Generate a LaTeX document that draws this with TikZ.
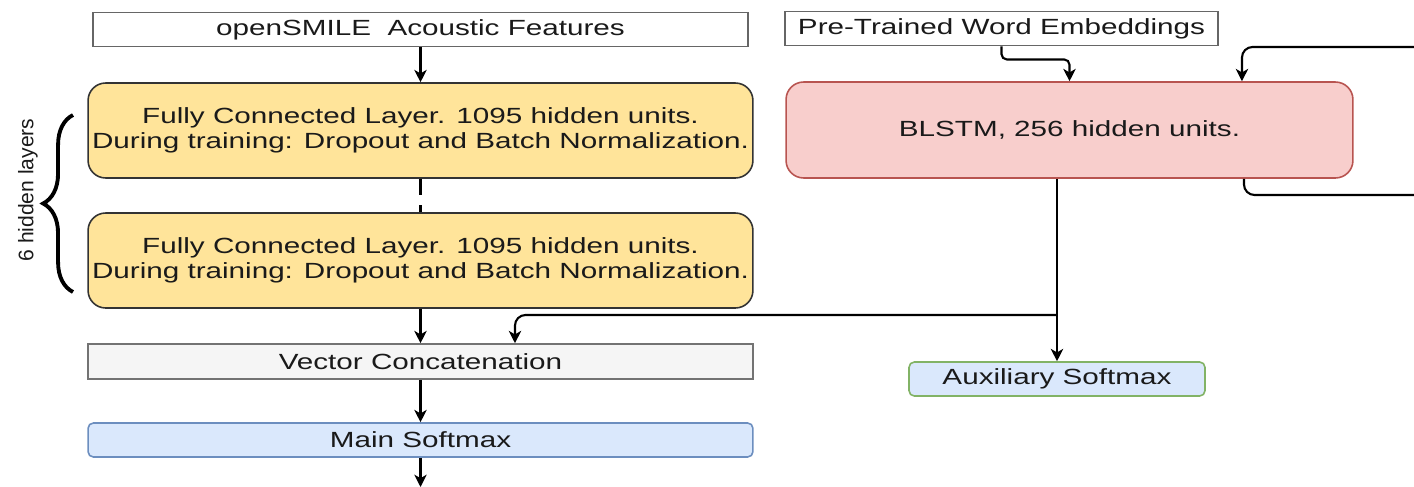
\documentclass[tikz,border=0pt]{standalone}
\usepackage{fontspec}
\setmainfont[FakeStretch=1.35]{Liberation Sans}
\newfontfamily\sidefont{Liberation Sans}
\usetikzlibrary{arrows.meta,decorations.pathreplacing}
\definecolor{fcfill}{HTML}{FFE49A}
\definecolor{lstmfill}{HTML}{F8CECC}
\definecolor{lstmdraw}{HTML}{B85450}
\definecolor{catfill}{HTML}{F5F5F5}
\definecolor{smfill}{HTML}{DAE8FC}
\definecolor{smdraw}{HTML}{6C8EBF}
\definecolor{auxdraw}{HTML}{82B366}
\definecolor{txt}{HTML}{1A1A1A}
\begin{document}
\begin{tikzpicture}[x=0.02cm,y=-0.02cm,
    every node/.style={font=\fontsize{12.5}{14.2}\selectfont,text=txt,align=center,inner sep=0pt},
    inbox/.style={draw=black!60,line width=1.1pt,fill=white,minimum height=0.68cm},
    fclayer/.style={draw=black!80,line width=0.9pt,fill=fcfill,rounded corners=10pt,minimum width=13.3cm,minimum height=1.9cm},
    flat/.style={draw=black!55,line width=0.9pt,fill=catfill,minimum width=13.3cm,minimum height=0.7cm},
    smax/.style={line width=0.9pt,fill=smfill,rounded corners=3pt,minimum height=0.68cm},
    arr/.style={-{Stealth[length=7pt,width=7pt,inset=2pt]},line width=1.2pt,black}]
    \useasboundingbox (0,0) rectangle (1414,487);
    \node[inbox,minimum width=13.1cm] (feat) at (420.5,29.5) {openSMILE\ \ Acoustic Features};
    \node[fclayer] (fc1) at (420.5,130.5) {Fully Connected Layer. 1095 hidden units.\\During training: Dropout and Batch Normalization.};
    \node[fclayer] (fc2) at (420.5,260.5) {Fully Connected Layer. 1095 hidden units.\\During training: Dropout and Batch Normalization.};
    \node[flat] (concat) at (420.5,361.5) {Vector Concatenation};
    \node[smax,draw=smdraw,minimum width=13.3cm] (mainsm) at (420.5,440) {Main Softmax};
    \node[inbox,minimum width=8.66cm] (emb) at (1001.5,28.5) {Pre-Trained Word Embeddings};
    \node[draw=lstmdraw,line width=0.9pt,fill=lstmfill,rounded corners=10pt,minimum width=11.34cm,minimum height=1.92cm] (blstm) at (1069.5,130) {BLSTM, 256 hidden units.};
    \node[smax,draw=auxdraw,minimum width=5.92cm] (aux) at (1057,379) {Auxiliary Softmax};
    \coordinate (out) at (420.5,487);
    \coordinate (split) at (1057,315);
    \coordinate (looptop) at (1414,47);
    \coordinate (loopbot) at (1414,195);
    % left branch
    \draw[arr] (feat) -- (fc1);
    \draw[line width=1.3pt,dash pattern=on 9pt off 6pt] (fc1.south) -- (fc2.north);
    \draw[arr] (fc2) -- (concat);
    \draw[arr] (concat) -- (mainsm);
    \draw[arr] (mainsm) -- (out);
    % right branch
    \draw[arr,rounded corners=3pt] (emb.south) -- ++(0,13) -| (blstm.north);
    \draw[arr,rounded corners=6pt] (looptop) -| ([xshift=3.45cm]blstm.north);
    \draw[line width=1.2pt,rounded corners=6pt] ([xshift=3.49cm]blstm.south) |- (loopbot);
    \draw[arr] (blstm.south -| aux.north) -- (aux.north);
    \draw[arr,rounded corners=6pt] (split) -| ([xshift=1.89cm]concat.north);
    % brace
    \draw[line width=2.2pt,decorate,decoration={brace,amplitude=17pt}] (73,292) -- (73,115);
    \node[rotate=90,font=\sidefont\fontsize{12}{14}\selectfont] (lbl) at (28,190) {6 hidden layers};
\end{tikzpicture}
\end{document}
